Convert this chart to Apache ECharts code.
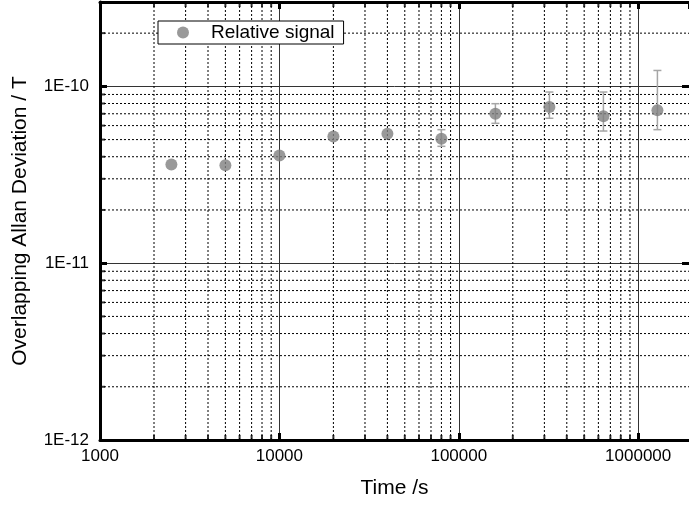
<!DOCTYPE html>
<html>
<head>
<meta charset="utf-8">
<script src="https://cdn.jsdelivr.net/npm/echarts@6/dist/echarts.min.js"></script>
<style>
  html, body { margin: 0; padding: 0; background: #fff; }
  #chart { width: 689px; height: 507px; }
</style>
</head>
<body>
<div id="chart"></div>
<script>
// Averaging time tau (s)
const tau = [2500, 5000, 10000, 20000, 40000, 80000, 160000, 320000, 640000, 1280000];
// Overlapping Allan deviation (T)
const adev = [3.61e-11, 3.58e-11, 4.07e-11, 5.20e-11, 5.40e-11, 5.06e-11, 7.01e-11, 7.64e-11, 6.77e-11, 7.32e-11];
// Error bar bounds (null where the bar sits inside the marker)
const errLow  = [null, null, null, null, null, 4.58e-11, 6.18e-11, 6.60e-11, 5.59e-11, 5.69e-11];
const errHigh = [null, null, null, null, null, 5.69e-11, 7.98e-11, 9.29e-11, 9.29e-11, 1.23e-10];
// Decades carrying tick labels
const xDecades = [1000, 10000, 100000, 1000000];
const yDecades = [1e-12, 1e-11, 1e-10];

const X_MIN = 1000, X_MAX = 1.92e6;
const Y_MIN = 1e-12, Y_MAX = 3e-10;
const FONT = '"Liberation Sans", Arial, sans-serif';

// intermediate log positions 2..9 within each decade
function minorsOf(decades, max) {
  const out = [];
  decades.forEach(d => { for (let k = 2; k <= 9; k++) { const v = k * d; if (v < max) out.push(v); } });
  return out;
}
const xMinor = minorsOf(xDecades, X_MAX);
const yMinor = minorsOf(yDecades, Y_MAX);

function isDecade(v) {
  const e = Math.round(Math.log10(v));
  return Math.abs(v / Math.pow(10, e) - 1) < 1e-6 ? e : null;
}

const axisLineStyle = { color: '#000', width: 3 };
const majorTick = { show: true, inside: true, length: 7, lineStyle: { color: '#000', width: 3 } };
const dottedStyle = { stroke: '#000', lineWidth: 1, lineDash: [2, 2], fill: null };

const chart = echarts.init(document.getElementById('chart'), null, { renderer: 'canvas' });

chart.setOption({
  animation: false,
  backgroundColor: '#fff',
  grid: { left: 100, top: 2, width: 592, height: 438, containLabel: false },
  legend: {
    data: ['Relative signal'],
    left: 158, top: 21,
    icon: 'circle', itemWidth: 12, itemHeight: 12,
    backgroundColor: '#fff', borderColor: '#000', borderWidth: 1,
    padding: [2, 9, 2, 19],
    selectedMode: false,
    textStyle: { fontSize: 19, fontFamily: FONT, color: '#000', padding: [0, 0, 0, 17], lineHeight: 19 }
  },
  xAxis: [
    {
      type: 'log', logBase: 10, min: X_MIN, max: X_MAX, position: 'bottom',
      axisLine: { lineStyle: axisLineStyle },
      axisTick: majorTick,
      axisLabel: {
        fontSize: 17, fontFamily: FONT, color: '#000', margin: 8,
        showMaxLabel: false,
        formatter: v => (isDecade(v) !== null ? String(Math.round(v)) : '')
      },
      splitLine: { show: true, lineStyle: { color: '#333', width: 1 } },
      name: 'Time /s', nameLocation: 'middle', nameGap: 38,
      nameTextStyle: { fontSize: 21, fontFamily: FONT, color: '#000' }
    },
    {
      type: 'log', logBase: 10, min: X_MIN, max: X_MAX, position: 'top',
      axisLine: { lineStyle: axisLineStyle },
      axisTick: majorTick,
      axisLabel: { show: false },
      splitLine: { show: false }
    }
  ],
  yAxis: [
    {
      type: 'log', logBase: 10, min: Y_MIN, max: Y_MAX, position: 'left',
      axisLine: { lineStyle: axisLineStyle },
      axisTick: majorTick,
      axisLabel: {
        fontSize: 17, fontFamily: FONT, color: '#000', margin: 11,
        showMaxLabel: false,
        formatter: v => { const e = isDecade(v); return e !== null ? '1E' + e : ''; }
      },
      splitLine: { show: true, lineStyle: { color: '#333', width: 1 } },
      name: 'Overlapping Allan Deviation / T', nameLocation: 'middle', nameGap: 69,
      nameTextStyle: { fontSize: 21, fontFamily: FONT, color: '#000' }
    },
    {
      type: 'log', logBase: 10, min: Y_MIN, max: Y_MAX, position: 'right',
      axisLine: { show: false },
      axisTick: majorTick,
      axisLabel: { show: false },
      splitLine: { show: false }
    }
  ],
  series: [
    {
      // dotted vertical grid at the in-between decade positions
      name: 'minor-grid-x', type: 'custom', silent: true, z: 1,
      encode: { x: 0 },
      data: xMinor.map(v => [v]),
      renderItem: function (params, api) {
        const v = api.value(0);
        const a = api.coord([v, Y_MIN]);
        const b = api.coord([v, Y_MAX]);
        return { type: 'line', shape: { x1: a[0], y1: a[1], x2: b[0], y2: b[1] }, style: dottedStyle };
      }
    },
    {
      // dotted horizontal grid at the in-between decade positions
      name: 'minor-grid-y', type: 'custom', silent: true, z: 1,
      encode: { y: 0 },
      data: yMinor.map(v => [v]),
      renderItem: function (params, api) {
        const v = api.value(0);
        const a = api.coord([X_MIN, v]);
        const b = api.coord([X_MAX, v]);
        return { type: 'line', shape: { x1: a[0], y1: a[1], x2: b[0], y2: b[1] }, style: dottedStyle };
      }
    },
    {
      // short inward ticks at intermediate positions: bottom edge
      name: 'minor-ticks-bottom', type: 'scatter', silent: true, clip: false,
      symbol: 'rect', symbolSize: [2, 6], symbolOffset: [0, -2],
      itemStyle: { color: '#000' }, z: 6,
      data: xMinor.map(v => [v, Y_MIN])
    },
    {
      name: 'minor-ticks-top', type: 'scatter', silent: true, clip: false,
      symbol: 'rect', symbolSize: [2, 6], symbolOffset: [0, 2],
      itemStyle: { color: '#000' }, z: 6,
      data: xMinor.map(v => [v, Y_MAX])
    },
    {
      name: 'minor-ticks-left', type: 'scatter', silent: true, clip: false,
      symbol: 'rect', symbolSize: [6, 2], symbolOffset: [2, 0],
      itemStyle: { color: '#000' }, z: 6,
      data: yMinor.map(v => [X_MIN, v])
    },
    {
      name: 'error-bars', type: 'custom', silent: true, z: 4,
      encode: { x: 0, y: [1, 2] },
      data: tau.map((t, i) => [t, errLow[i], errHigh[i]]).filter(d => d[1] !== null),
      renderItem: function (params, api) {
        const x = api.value(0);
        const lo = api.coord([x, api.value(1)]);
        const hi = api.coord([x, api.value(2)]);
        const hw = 4;
        const style = { stroke: '#a6a6a6', lineWidth: 1.5, fill: null };
        return {
          type: 'group',
          children: [
            { type: 'line', shape: { x1: lo[0], y1: lo[1], x2: hi[0], y2: hi[1] }, style: style },
            { type: 'line', shape: { x1: lo[0] - hw, y1: lo[1], x2: lo[0] + hw, y2: lo[1] }, style: style },
            { type: 'line', shape: { x1: hi[0] - hw, y1: hi[1], x2: hi[0] + hw, y2: hi[1] }, style: style }
          ]
        };
      }
    },
    {
      name: 'Relative signal', type: 'scatter', z: 5,
      symbol: 'circle', symbolSize: 12,
      itemStyle: { color: '#808080' },
      data: tau.map((t, i) => [t, adev[i]])
    }
  ]
});
</script>
</body>
</html>
